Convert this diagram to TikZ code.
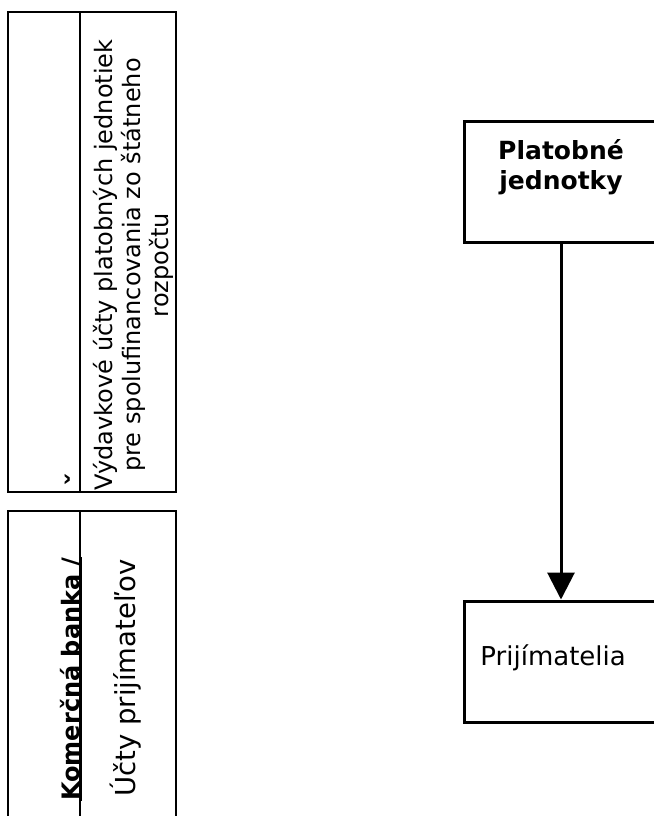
\documentclass[tikz,border=0pt]{standalone}
\usepackage{fontspec}
\setmainfont{DejaVu Sans}
\usetikzlibrary{arrows.meta}

\begin{document}
\begin{tikzpicture}[x=0.5pt, y=-0.5pt, col/.style={draw, line width=1pt, inner sep=0pt}, box/.style={draw, line width=1.5pt, inner sep=0pt, minimum width=97pt, minimum height=60.5pt}, vtext/.style={rotate=90, align=center, inner sep=0pt, font=\fontsize{12}{14}\selectfont}, n/.style={-{Triangle[width=13.5pt, length=13.5pt]}, line width=1.5pt}]
            \clip (0,0) rectangle (654,816);
            % nodes
            \node[col, minimum width=36pt, minimum height=240pt] (head1) at (44,252) {};
            \node[col, minimum width=48pt, minimum height=240pt] (body1) at (128,252) {};
            \node[col, minimum width=36pt, minimum height=170pt] (head2) at (44,681) {};
            \node[col, minimum width=48pt, minimum height=170pt] (body2) at (128,681) {};
            \node[vtext, font=\bfseries\fontsize{14}{14}\selectfont] (cut) at (76,479) {ˇ};
            \node[vtext] (acc1) at (133,265) {Výdavkové účty platobných jednotiek\\pre spolufinancovania zo štátneho\\rozpočtu};
            \node[vtext, font=\bfseries\fontsize{12}{14}\selectfont, anchor=base] (bank) at (79,679) {\underline{\smash{Komerčná banka /}}};
            \node[vtext, font=\fontsize{13.75}{16}\selectfont] (acc2) at (126,678) {Účty prijímateľov};
            \node[box] (units) at (561,181.5) {};
            \node[align=center, anchor=north, inner sep=0pt, font=\bfseries\fontsize{12.5}{15}\selectfont] (unitstext) at (561,139) {Platobné\\jednotky};
            \node[box] (recip) at (561,661.5) {};
            \node[anchor=base west, inner sep=0pt, font=\fontsize{13}{15}\selectfont] (reciptext) at (480,665) {Prijímatelia};
            % edges
            \draw [n] (units) -- (recip);
        \end{tikzpicture}
\end{document}
